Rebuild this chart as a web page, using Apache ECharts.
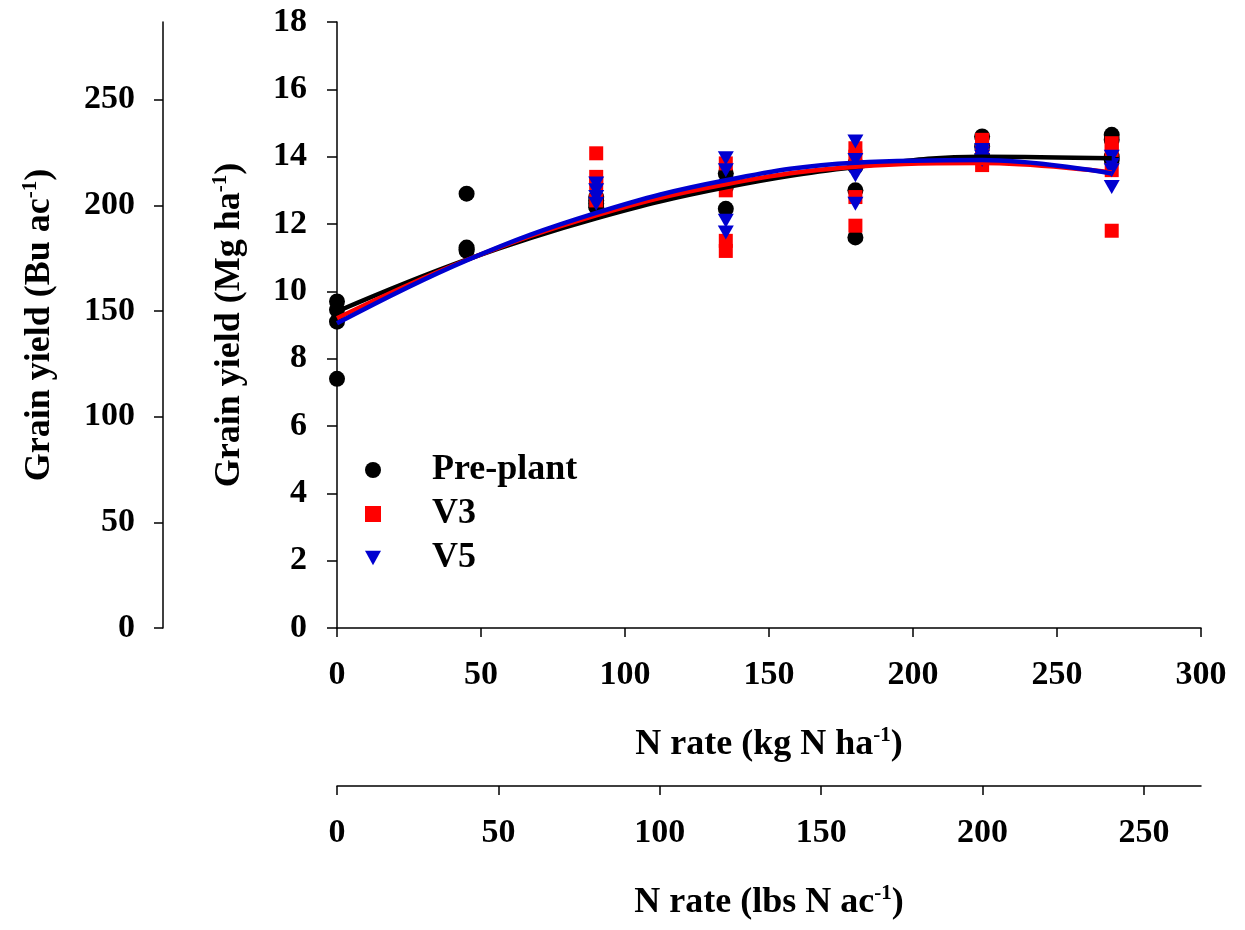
<!DOCTYPE html>
<html>
<head>
<meta charset="utf-8">
<title>Grain yield vs N rate</title>
<script src="https://cdn.jsdelivr.net/npm/echarts@6/dist/echarts.min.js"></script>
<style>
html, body { margin: 0; padding: 0; background: #fff; }
#chart { width: 1245px; height: 930px; }
</style>
</head>
<body>
<div id="chart"></div>
<script>
// N rates (kg N/ha) and observed yields (Mg/ha), four reps per rate
var nRates = [0, 45, 90, 135, 180, 224, 269];
var preplantYield = [
	[9.7, 9.45, 9.1, 7.4],
	[12.9, 11.3, 11.2, 11.25],
	[12.8, 12.6, 12.5, 12.7],
	[13.5, 12.45, 13.2, 13.1],
	[13.0, 11.6, 13.7, 13.8],
	[14.6, 14.3, 14.0, 13.9],
	[14.65, 14.5, 14.0, 13.9]
];
var v3Yield = [
	[],
	[],
	[14.1, 13.4, 13.2, 12.7],
	[13.8, 13.0, 11.5, 11.2],
	[14.25, 14.0, 12.8, 11.95],
	[14.5, 14.3, 13.75, 14.0],
	[14.4, 14.2, 13.6, 11.8]
];
var v5Yield = [
	[],
	[],
	[13.2, 13.0, 12.8, 12.6],
	[13.95, 13.6, 12.1, 11.75],
	[14.45, 13.45, 12.6, 13.9],
	[14.2, 14.0, 14.1, 13.9],
	[14.0, 13.75, 13.6, 13.1]
];
// fitted quadratic curves at the same rates
var preplantFit = [9.4, 10.94, 12.17, 13.09, 13.69, 14.0, 13.95];
var v3Fit = [9.2, 10.93, 12.26, 13.18, 13.7, 13.81, 13.53];
var v5Fit = [9.05, 10.92, 12.33, 13.3, 13.82, 13.9, 13.5];

// axis ticks
var kgTicks = [0, 50, 100, 150, 200, 250, 300];
var lbsTicks = [0, 50, 100, 150, 200, 250];
var mgTicks = [0, 2, 4, 6, 8, 10, 12, 14, 16, 18];
var buTicks = [0, 50, 100, 150, 200, 250];

var KG_TO_LBS = 0.8922;
var MG_TO_BU = 15.93;

var font = '"Liberation Serif", "Times New Roman", serif';
var fs = 34;

function toPoints(yields) {
	var pts = [];
	for (var i = 0; i < nRates.length; i++) {
		for (var j = 0; j < yields[i].length; j++) {
			pts.push([nRates[i], yields[i][j]]);
		}
	}
	return pts;
}
function toCurve(fit) {
	var pts = [];
	for (var i = 0; i < nRates.length; i++) {
		pts.push([nRates[i], fit[i]]);
	}
	return pts;
}

var nameStyle = {
	fontFamily: font,
	fontWeight: 'bold',
	fontSize: 36,
	color: '#000',
	rich: {
		b: { fontFamily: font, fontWeight: 'bold', fontSize: 36, lineHeight: 40, color: '#000' },
		s: { fontFamily: font, fontWeight: 'bold', fontSize: 21, lineHeight: 20, verticalAlign: 'top', color: '#000' }
	}
};
var labelStyle = { fontFamily: font, fontWeight: 'bold', fontSize: fs, color: '#000' };
var lineStyle = { color: '#000', width: 1.5 };

var triangleDown = 'path://M0,0 L10,0 L5,9 Z';

var chart = echarts.init(document.getElementById('chart'));
chart.setOption({
	animation: false,
	backgroundColor: '#fff',
	grid: { left: 337, top: 22, right: 44, bottom: 302, containLabel: false },
	legend: {
		orient: 'vertical',
		left: 360,
		top: 447,
		itemWidth: 16,
		itemHeight: 16,
		itemGap: 8,
		selectedMode: false,
		data: ['Pre-plant', 'V3', 'V5'],
		textStyle: {
			fontFamily: font,
			fontWeight: 'bold',
			fontSize: 36,
			lineHeight: 34,
			color: '#000',
			padding: [0, 0, 0, 46]
		}
	},
	xAxis: [{
		type: 'value',
		min: 0,
		max: 300,
		interval: 50,
		position: 'bottom',
		name: '{b|N rate (kg N ha}{s|-1}{b|)}',
		nameLocation: 'middle',
		nameGap: 97,
		nameTextStyle: nameStyle,
		splitLine: { show: false },
		axisLine: { show: true, onZero: false, lineStyle: lineStyle },
		axisTick: { show: true, length: 9, lineStyle: lineStyle, customValues: kgTicks },
		axisLabel: { margin: 30, customValues: kgTicks, textStyle: labelStyle }
	}, {
		type: 'value',
		min: 0,
		max: 300 * KG_TO_LBS,
		position: 'bottom',
		offset: 158,
		name: '{b|N rate (lbs N ac}{s|-1}{b|)}',
		nameLocation: 'middle',
		nameGap: 97,
		nameTextStyle: nameStyle,
		splitLine: { show: false },
		axisLine: { show: true, onZero: false, lineStyle: lineStyle },
		axisTick: { show: true, length: 9, lineStyle: lineStyle, customValues: lbsTicks },
		axisLabel: { margin: 30, customValues: lbsTicks, textStyle: labelStyle }
	}],
	yAxis: [{
		type: 'value',
		min: 0,
		max: 18,
		interval: 2,
		position: 'left',
		name: '{b|Grain yield (Mg ha}{s|-1}{b|)}',
		nameLocation: 'middle',
		nameGap: 87,
		nameTextStyle: nameStyle,
		splitLine: { show: false },
		axisLine: { show: true, onZero: false, lineStyle: lineStyle },
		axisTick: { show: true, length: 10, lineStyle: lineStyle, customValues: mgTicks },
		axisLabel: { margin: 30, customValues: mgTicks, textStyle: labelStyle }
	}, {
		type: 'value',
		min: 0,
		max: 18 * MG_TO_BU,
		position: 'left',
		offset: 174,
		name: '{b|Grain yield (Bu ac}{s|-1}{b|)}',
		nameLocation: 'middle',
		nameGap: 103,
		nameTextStyle: nameStyle,
		splitLine: { show: false },
		axisLine: { show: true, onZero: false, lineStyle: lineStyle },
		axisTick: { show: true, length: 9, lineStyle: lineStyle, customValues: buTicks },
		axisLabel: { margin: 28, customValues: buTicks, textStyle: labelStyle }
	}],
	series: [{
		name: 'Pre-plant',
		type: 'scatter',
		symbol: 'circle',
		symbolSize: 16,
		itemStyle: { color: '#000', opacity: 1 },
		z: 2,
		data: toPoints(preplantYield)
	}, {
		name: 'V3',
		type: 'scatter',
		symbol: 'rect',
		symbolSize: 14,
		itemStyle: { color: '#ff0000', opacity: 1 },
		z: 3,
		data: toPoints(v3Yield)
	}, {
		name: 'V5',
		type: 'scatter',
		symbol: triangleDown,
		symbolSize: [16, 14],
		itemStyle: { color: '#0000d0', opacity: 1 },
		z: 4,
		data: toPoints(v5Yield)
	}, {
		name: 'Pre-plant fit',
		type: 'line',
		smooth: 0.4,
		showSymbol: false,
		lineStyle: { color: '#000', width: 4.5 },
		z: 5,
		data: toCurve(preplantFit)
	}, {
		name: 'V3 fit',
		type: 'line',
		smooth: 0.4,
		showSymbol: false,
		lineStyle: { color: '#ff0000', width: 4.5 },
		z: 6,
		data: toCurve(v3Fit)
	}, {
		name: 'V5 fit',
		type: 'line',
		smooth: 0.4,
		showSymbol: false,
		lineStyle: { color: '#0000d0', width: 4.5 },
		z: 7,
		data: toCurve(v5Fit)
	}]
});
</script>
</body>
</html>
